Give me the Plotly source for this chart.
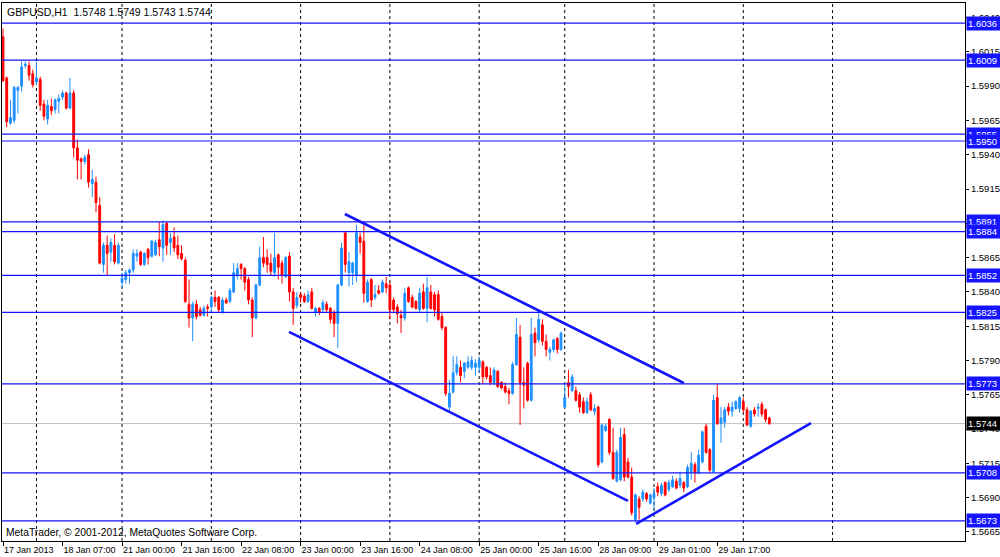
import plotly.graph_objects as go

SYMBOL = "GBPUSD,H1"

OPEN = [
    1.6026, 1.5996, 1.5963, 1.5965, 1.5987, 1.5990, 1.6005, 1.6005, 1.5999, 1.5993,
    1.5995, 1.5977, 1.5966, 1.5975, 1.5973, 1.5979, 1.5982, 1.5985, 1.5974, 1.5985,
    1.5945, 1.5937, 1.5935, 1.5940, 1.5919, 1.5920, 1.5903, 1.5860, 1.5874, 1.5869,
    1.5874, 1.5861, 1.5847, 1.5849, 1.5854, 1.5856, 1.5866, 1.5869, 1.5860, 1.5871,
    1.5866, 1.5867, 1.5878, 1.5872, 1.5890, 1.5876, 1.5880, 1.5874, 1.5868, 1.5863,
    1.5831, 1.5821, 1.5831, 1.5827, 1.5823, 1.5829, 1.5829, 1.5836, 1.5836, 1.5825,
    1.5834, 1.5833, 1.5840, 1.5852, 1.5860, 1.5857, 1.5849, 1.5834, 1.5821, 1.5845,
    1.5865, 1.5865, 1.5861, 1.5854, 1.5867, 1.5861, 1.5851, 1.5866, 1.5840, 1.5830,
    1.5838, 1.5837, 1.5833, 1.5840, 1.5825, 1.5828, 1.5827, 1.5831, 1.5828, 1.5825,
    1.5817, 1.5845, 1.5883, 1.5854, 1.5854, 1.5852, 1.5880, 1.5877, 1.5833, 1.5849,
    1.5836, 1.5841, 1.5840, 1.5846, 1.5845, 1.5834, 1.5829, 1.5823, 1.5821, 1.5843,
    1.5836, 1.5833, 1.5827, 1.5840, 1.5828, 1.5840, 1.5838, 1.5838, 1.5822, 1.5814,
    1.5756, 1.5767, 1.5781, 1.5785, 1.5782, 1.5785, 1.5785, 1.5785, 1.5785, 1.5789,
    1.5785, 1.5779, 1.5774, 1.5782, 1.5774, 1.5771, 1.5768, 1.5766, 1.5787, 1.5807,
    1.5774, 1.5788, 1.5761, 1.5810, 1.5805, 1.5816, 1.5804, 1.5796, 1.5798, 1.5806,
    1.5798, 1.5756, 1.5774, 1.5768, 1.5768, 1.5765, 1.5760, 1.5752, 1.5765, 1.5753,
    1.5756, 1.5716, 1.5739, 1.5747, 1.5723, 1.5702, 1.5703, 1.5736, 1.5716, 1.5705,
    1.5674, 1.5689, 1.5689, 1.5693, 1.5686, 1.5690, 1.5698, 1.5693, 1.5701, 1.5696,
    1.5698, 1.5702, 1.5699, 1.5701, 1.5698, 1.5709, 1.5714, 1.5708, 1.5716, 1.5742,
    1.5725, 1.5709, 1.5763, 1.5744, 1.5745, 1.5756, 1.5753, 1.5755, 1.5755, 1.5760,
    1.5754, 1.5742, 1.5754, 1.5755, 1.5758, 1.5754, 1.5748,
]
HIGH = [
    1.6032, 1.5997, 1.5980, 1.5990, 1.5990, 1.6008, 1.6008, 1.6008, 1.6002, 1.6008,
    1.5997, 1.5980, 1.5980, 1.5981, 1.5981, 1.5984, 1.5987, 1.5986, 1.5996, 1.5987,
    1.5951, 1.5938, 1.5940, 1.5944, 1.5929, 1.5924, 1.5909, 1.5876, 1.5881, 1.5879,
    1.5882, 1.5876, 1.5854, 1.5856, 1.5857, 1.5871, 1.5871, 1.5870, 1.5869, 1.5872,
    1.5878, 1.5878, 1.5891, 1.5892, 1.5891, 1.5883, 1.5887, 1.5881, 1.5874, 1.5865,
    1.5849, 1.5833, 1.5834, 1.5829, 1.5830, 1.5831, 1.5837, 1.5841, 1.5837, 1.5836,
    1.5836, 1.5843, 1.5861, 1.5861, 1.5861, 1.5858, 1.5851, 1.5836, 1.5846, 1.5873,
    1.5880, 1.5871, 1.5868, 1.5883, 1.5868, 1.5863, 1.5866, 1.5869, 1.5843, 1.5840,
    1.5840, 1.5839, 1.5841, 1.5843, 1.5829, 1.5829, 1.5834, 1.5833, 1.5829, 1.5827,
    1.5846, 1.5876, 1.5884, 1.5869, 1.5862, 1.5889, 1.5883, 1.5889, 1.5849, 1.5850,
    1.5845, 1.5845, 1.5849, 1.5851, 1.5847, 1.5836, 1.5831, 1.5827, 1.5843, 1.5844,
    1.5838, 1.5834, 1.5843, 1.5846, 1.5851, 1.5845, 1.5840, 1.5841, 1.5825, 1.5815,
    1.5776, 1.5793, 1.5793, 1.5790, 1.5789, 1.5793, 1.5793, 1.5791, 1.5793, 1.5790,
    1.5786, 1.5785, 1.5785, 1.5783, 1.5775, 1.5774, 1.5770, 1.5789, 1.5821, 1.5816,
    1.5785, 1.5789, 1.5821, 1.5814, 1.5827, 1.5820, 1.5809, 1.5800, 1.5806, 1.5807,
    1.5811, 1.5774, 1.5783, 1.5780, 1.5771, 1.5767, 1.5763, 1.5763, 1.5767, 1.5758,
    1.5757, 1.5744, 1.5744, 1.5748, 1.5741, 1.5725, 1.5741, 1.5741, 1.5719, 1.5712,
    1.5693, 1.5691, 1.5696, 1.5694, 1.5693, 1.5697, 1.5701, 1.5701, 1.5702, 1.5703,
    1.5706, 1.5704, 1.5709, 1.5702, 1.5714, 1.5723, 1.5716, 1.5725, 1.5739, 1.5744,
    1.5726, 1.5765, 1.5773, 1.5756, 1.5756, 1.5759, 1.5760, 1.5761, 1.5764, 1.5763,
    1.5756, 1.5754, 1.5756, 1.5759, 1.5760, 1.5755, 1.5749,
]
LOW = [
    1.5993, 1.5960, 1.5962, 1.5963, 1.5970, 1.5986, 1.6003, 1.5994, 1.5989, 1.5991,
    1.5972, 1.5965, 1.5962, 1.5969, 1.5970, 1.5970, 1.5980, 1.5973, 1.5973, 1.5938,
    1.5922, 1.5922, 1.5933, 1.5916, 1.5909, 1.5898, 1.5860, 1.5854, 1.5852, 1.5862,
    1.5860, 1.5860, 1.5843, 1.5846, 1.5846, 1.5854, 1.5862, 1.5859, 1.5859, 1.5860,
    1.5865, 1.5866, 1.5866, 1.5862, 1.5867, 1.5867, 1.5869, 1.5864, 1.5863, 1.5832,
    1.5814, 1.5804, 1.5820, 1.5822, 1.5822, 1.5822, 1.5825, 1.5829, 1.5825, 1.5824,
    1.5831, 1.5832, 1.5839, 1.5849, 1.5849, 1.5841, 1.5831, 1.5807, 1.5820, 1.5844,
    1.5858, 1.5854, 1.5852, 1.5851, 1.5849, 1.5846, 1.5850, 1.5833, 1.5816, 1.5828,
    1.5832, 1.5832, 1.5832, 1.5827, 1.5822, 1.5823, 1.5825, 1.5825, 1.5817, 1.5807,
    1.5799, 1.5844, 1.5854, 1.5844, 1.5845, 1.5847, 1.5868, 1.5832, 1.5832, 1.5829,
    1.5834, 1.5838, 1.5839, 1.5839, 1.5820, 1.5825, 1.5817, 1.5810, 1.5819, 1.5832,
    1.5828, 1.5827, 1.5825, 1.5827, 1.5818, 1.5827, 1.5822, 1.5819, 1.5812, 1.5764,
    1.5753, 1.5766, 1.5779, 1.5774, 1.5777, 1.5784, 1.5783, 1.5779, 1.5781, 1.5773,
    1.5776, 1.5772, 1.5772, 1.5770, 1.5769, 1.5766, 1.5758, 1.5765, 1.5786, 1.5743,
    1.5755, 1.5760, 1.5760, 1.5793, 1.5803, 1.5801, 1.5793, 1.5790, 1.5796, 1.5795,
    1.5797, 1.5755, 1.5763, 1.5767, 1.5760, 1.5752, 1.5751, 1.5751, 1.5753, 1.5750,
    1.5712, 1.5715, 1.5738, 1.5721, 1.5703, 1.5701, 1.5702, 1.5702, 1.5704, 1.5677,
    1.5672, 1.5674, 1.5687, 1.5687, 1.5685, 1.5681, 1.5691, 1.5691, 1.5691, 1.5694,
    1.5697, 1.5696, 1.5697, 1.5694, 1.5697, 1.5703, 1.5701, 1.5707, 1.5715, 1.5722,
    1.5709, 1.5708, 1.5743, 1.5730, 1.5741, 1.5750, 1.5749, 1.5754, 1.5752, 1.5752,
    1.5742, 1.5741, 1.5749, 1.5749, 1.5749, 1.5745, 1.5743,
]
CLOSE = [
    1.5994, 1.5964, 1.5967, 1.5989, 1.5989, 1.6004, 1.6006, 1.5998, 1.5991, 1.5996,
    1.5976, 1.5968, 1.5976, 1.5972, 1.5980, 1.5981, 1.5985, 1.5974, 1.5985, 1.5945,
    1.5936, 1.5935, 1.5938, 1.5920, 1.5922, 1.5905, 1.5861, 1.5874, 1.5868, 1.5876,
    1.5862, 1.5874, 1.5850, 1.5854, 1.5856, 1.5868, 1.5868, 1.5860, 1.5868, 1.5865,
    1.5877, 1.5876, 1.5873, 1.5889, 1.5874, 1.5879, 1.5872, 1.5867, 1.5864, 1.5833,
    1.5821, 1.5831, 1.5822, 1.5823, 1.5828, 1.5828, 1.5836, 1.5833, 1.5827, 1.5834,
    1.5832, 1.5841, 1.5854, 1.5857, 1.5857, 1.5847, 1.5834, 1.5821, 1.5845, 1.5865,
    1.5861, 1.5860, 1.5855, 1.5865, 1.5858, 1.5852, 1.5865, 1.5840, 1.5828, 1.5836,
    1.5836, 1.5833, 1.5838, 1.5828, 1.5828, 1.5825, 1.5832, 1.5827, 1.5820, 1.5817,
    1.5845, 1.5872, 1.5860, 1.5862, 1.5861, 1.5883, 1.5876, 1.5839, 1.5847, 1.5834,
    1.5838, 1.5839, 1.5847, 1.5843, 1.5827, 1.5827, 1.5824, 1.5821, 1.5839, 1.5833,
    1.5829, 1.5828, 1.5839, 1.5828, 1.5843, 1.5828, 1.5827, 1.5820, 1.5814, 1.5766,
    1.5766, 1.5781, 1.5787, 1.5779, 1.5788, 1.5789, 1.5790, 1.5788, 1.5790, 1.5778,
    1.5778, 1.5774, 1.5783, 1.5771, 1.5770, 1.5767, 1.5766, 1.5787, 1.5809, 1.5774,
    1.5772, 1.5761, 1.5809, 1.5803, 1.5820, 1.5804, 1.5798, 1.5798, 1.5805, 1.5798,
    1.5810, 1.5763, 1.5771, 1.5778, 1.5761, 1.5756, 1.5752, 1.5760, 1.5754, 1.5755,
    1.5714, 1.5743, 1.5742, 1.5723, 1.5704, 1.5723, 1.5734, 1.5705, 1.5705, 1.5679,
    1.5692, 1.5683, 1.5694, 1.5689, 1.5692, 1.5693, 1.5694, 1.5699, 1.5692, 1.5701,
    1.5703, 1.5697, 1.5704, 1.5697, 1.5712, 1.5715, 1.5708, 1.5721, 1.5738, 1.5723,
    1.5710, 1.5761, 1.5744, 1.5748, 1.5754, 1.5753, 1.5756, 1.5760, 1.5763, 1.5754,
    1.5743, 1.5753, 1.5751, 1.5756, 1.5751, 1.5747, 1.5744,
]

# x-axis labels: one every 16 hourly bars
X_LABEL_STEP = 16
X_LABELS = ["17 Jan 2013", "18 Jan 07:00", "21 Jan 00:00", "21 Jan 16:00",
            "22 Jan 08:00", "23 Jan 00:00", "23 Jan 16:00", "24 Jan 08:00",
            "25 Jan 00:00", "25 Jan 16:00", "28 Jan 09:00", "29 Jan 01:00",
            "29 Jan 17:00"]
# bar indices where a new trading day begins (vertical dashed grid)
DAY_STARTS = [9, 32, 56, 80, 104, 128, 151, 175, 199, 223]

Y_TICKS = [1.5665, 1.5690, 1.5715, 1.5740, 1.5765, 1.5790, 1.5815, 1.5840,
           1.5865, 1.5890, 1.5915, 1.5940, 1.5965, 1.5990, 1.6015, 1.6040]

# horizontal support/resistance levels
LEVELS = [1.6036, 1.6009, 1.5955, 1.5950, 1.5891, 1.5884, 1.5852,
          1.5825, 1.5773, 1.5708, 1.5673]
CURRENT_PRICE = CLOSE[-1]

# trend lines: (bar index, price) endpoints
CHANNEL_TOP = [(91.9, 1.58968), (183.0, 1.57736)]
CHANNEL_BOTTOM = [(76.9, 1.58108), (168.0, 1.56876)]
UP_TREND = [(170.2, 1.56708), (217.2, 1.57444)]

BLUE = "#1414ff"
FONT = "Liberation Sans, Arial, sans-serif"

idx = list(range(len(OPEN)))

fig = go.Figure()
fig.add_trace(go.Candlestick(
    x=idx, open=OPEN, high=HIGH, low=LOW, close=CLOSE,
    increasing=dict(line=dict(color="#1e90ff", width=1), fillcolor="#1e90ff"),
    decreasing=dict(line=dict(color="#ff0000", width=1), fillcolor="#ff0000"),
    whiskerwidth=0, hoverinfo="skip", showlegend=False,
))

for line in (CHANNEL_TOP, CHANNEL_BOTTOM, UP_TREND):
    fig.add_trace(go.Scatter(
        x=[p[0] for p in line], y=[p[1] for p in line], mode="lines",
        line=dict(color=BLUE, width=2.6), hoverinfo="skip", showlegend=False,
    ))

shapes = []
for d in DAY_STARTS:
    shapes.append(dict(type="line", xref="x", yref="paper", x0=d, x1=d, y0=0, y1=1,
                       line=dict(color="black", width=1, dash="3px,3px"), layer="below"))
shapes.append(dict(type="line", xref="paper", yref="y", x0=0, x1=1,
                   y0=CURRENT_PRICE, y1=CURRENT_PRICE,
                   line=dict(color="#c0c0c0", width=1), layer="below"))
for lv in LEVELS:
    shapes.append(dict(type="line", xref="paper", yref="y", x0=0, x1=1, y0=lv, y1=lv,
                       line=dict(color=BLUE, width=1.2)))

annotations = []
for lv in LEVELS:
    annotations.append(dict(
        x=1, xref="paper", y=lv, yref="y", xanchor="left", yanchor="middle",
        text=f"{lv:.4f}", showarrow=False, bgcolor=BLUE, borderpad=1,
        font=dict(color="white", size=9.5, family=FONT), xshift=1, width=31, align="left"))
annotations.append(dict(
    x=1, xref="paper", y=CURRENT_PRICE, yref="y", xanchor="left", yanchor="middle",
    text=f"{CURRENT_PRICE:.4f}", showarrow=False, bgcolor="black", borderpad=1,
    font=dict(color="white", size=9.5, family=FONT), xshift=1, width=31, align="left"))
annotations.append(dict(
    x=0, xref="paper", y=1, yref="paper", xanchor="left", yanchor="top",
    text=f"{SYMBOL}\u00a0\u00a0{OPEN[-1]:.4f} {HIGH[-1]:.4f} {LOW[-1]:.4f} {CLOSE[-1]:.4f}",
    showarrow=False, font=dict(color="black", size=10.5, family=FONT), xshift=3, yshift=-1))
annotations.append(dict(
    x=0, xref="paper", y=0, yref="paper", xanchor="left", yanchor="bottom",
    text="MetaTrader, © 2001-2012, MetaQuotes Software Corp.",
    showarrow=False, font=dict(color="black", size=10.3, family=FONT), xshift=2, yshift=1))

fig.update_layout(
    width=1000, height=557,
    margin=dict(l=2, r=35, t=3, b=16, autoexpand=False),
    paper_bgcolor="white", plot_bgcolor="white",
    showlegend=False,
    font=dict(family=FONT, size=9, color="black"),
    shapes=shapes, annotations=annotations,
    xaxis=dict(
        range=[-0.27, 258.6], rangeslider=dict(visible=False),
        showgrid=False, zeroline=False, showline=True, linecolor="black",
        linewidth=1, mirror=True, automargin=False,
        tickmode="array",
        tickvals=[i * X_LABEL_STEP for i in range(len(X_LABELS))],
        ticktext=X_LABELS, ticks="outside", ticklen=4, tickcolor="black",
        ticklabelposition="outside right", tickangle=0, tickfont=dict(size=9),
    ),
    yaxis=dict(
        side="right", range=[1.56584, 1.60506], automargin=False,
        tickmode="array", tickvals=Y_TICKS, tickformat=".4f",
        ticks="outside", ticklen=3, tickcolor="black",
        showgrid=False, zeroline=False, showline=True, linecolor="black",
        linewidth=1, mirror=True, tickfont=dict(size=9.5),
    ),
)

fig.write_html("out.html", config={"displayModeBar": False},
               post_script="document.body.style.margin='0';document.body.style.overflow='hidden';")
